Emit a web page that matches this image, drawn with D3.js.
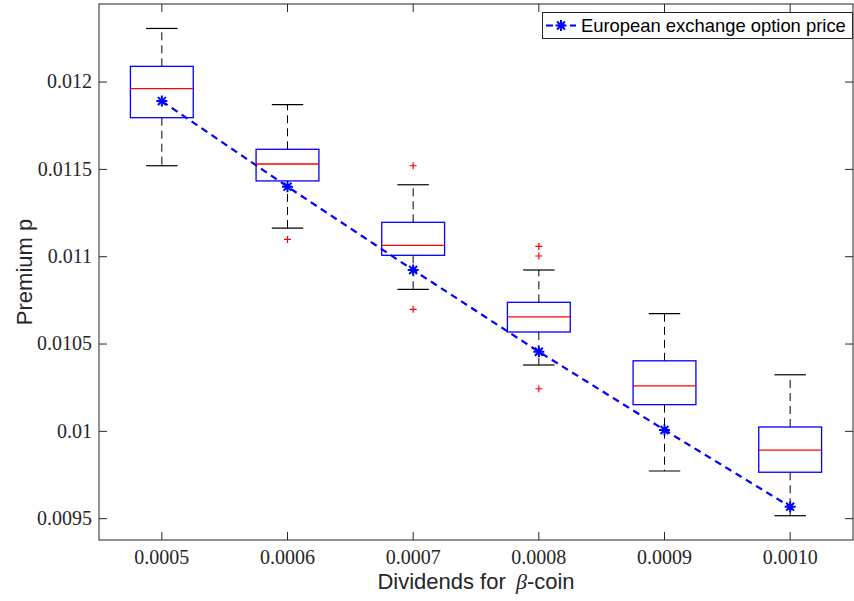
<!DOCTYPE html>
<html>
<head>
<meta charset="utf-8">
<script src="https://cdn.jsdelivr.net/npm/d3@7"></script>
<style>
  html, body { margin: 0; padding: 0; background: #fff; }
  svg { display: block; }
</style>
</head>
<body>
<svg id="chart" width="854" height="601"></svg>
<script>
// values
var categories = ['0.0005', '0.0006', '0.0007', '0.0008', '0.0009', '0.0010'];
var whiskerHigh = [0.012307, 0.011871, 0.011412, 0.010924, 0.010674, 0.010324];
var quartile3 = [0.012090, 0.011615, 0.011197, 0.010739, 0.010404, 0.010025];
var medians = [0.011962, 0.011531, 0.011065, 0.010655, 0.010261, 0.009893];
var quartile1 = [0.011796, 0.011434, 0.011008, 0.010569, 0.010153, 0.009766];
var whiskerLow = [0.011521, 0.011164, 0.010813, 0.010380, 0.009773, 0.009517];
var outliers = [[], [0.011099], [0.011521, 0.010699], [0.011059, 0.011004, 0.010244], [], []];
var optionPrice = [0.011891, 0.011401, 0.010924, 0.010456, 0.010008, 0.009569];

var yTicks = [0.0095, 0.01, 0.0105, 0.011, 0.0115, 0.012];
var yTickLabels = ['0.0095', '0.01', '0.0105', '0.011', '0.0115', '0.012'];
var yDomain = [0.009378, 0.012447];

var legendLabel = 'European exchange option price';

var svg = d3.select('#chart');
var margin = { top: 4, right: 1, bottom: 61, left: 99 };
var width = 854, height = 601;
var x0 = margin.left, x1 = width - margin.right;
var y0 = margin.top, y1 = height - margin.bottom;

var axisColor = '#262626';
var serif = '"Liberation Serif", "DejaVu Serif", serif';
var sans = '"Liberation Sans", Arial, sans-serif';

var x = d3.scalePoint().domain(categories).range([x0, x1]).padding(0.5);
var y = d3.scaleLinear().domain(yDomain).range([y1, y0]);
var step = x.step();
var boxW = step * 0.5;
var capW = step * 0.25;

var g = svg.append('g');

// whiskers
var whisk = g.append('g');
categories.forEach(function (c, i) {
  var cx = x(c);
  whisk.append('line')
    .attr('x1', cx).attr('x2', cx)
    .attr('y1', y(quartile3[i])).attr('y2', y(whiskerHigh[i]))
    .attr('stroke', '#000').attr('stroke-width', 1)
    .attr('stroke-dasharray', '8,5');
  whisk.append('line')
    .attr('x1', cx).attr('x2', cx)
    .attr('y1', y(quartile1[i])).attr('y2', y(whiskerLow[i]))
    .attr('stroke', '#000').attr('stroke-width', 1)
    .attr('stroke-dasharray', '8,5');
  [whiskerHigh[i], whiskerLow[i]].forEach(function (v) {
    whisk.append('line')
      .attr('x1', cx - capW / 2).attr('x2', cx + capW / 2)
      .attr('y1', y(v)).attr('y2', y(v))
      .attr('stroke', '#000').attr('stroke-width', 1.2);
  });
});

// boxes and medians
categories.forEach(function (c, i) {
  var cx = x(c);
  g.append('rect')
    .attr('x', cx - boxW / 2)
    .attr('y', y(quartile3[i]))
    .attr('width', boxW)
    .attr('height', y(quartile1[i]) - y(quartile3[i]))
    .attr('fill', 'none')
    .attr('stroke', '#0000ff')
    .attr('stroke-width', 1.3);
  g.append('line')
    .attr('x1', cx - boxW / 2).attr('x2', cx + boxW / 2)
    .attr('y1', y(medians[i])).attr('y2', y(medians[i]))
    .attr('stroke', '#ff0000').attr('stroke-width', 1.3);
});

// outliers
categories.forEach(function (c, i) {
  var cx = x(c);
  outliers[i].forEach(function (v) {
    var cy = y(v);
    g.append('path')
      .attr('d', 'M' + (cx - 3.5) + ',' + cy + 'H' + (cx + 3.5) +
        'M' + cx + ',' + (cy - 3.5) + 'V' + (cy + 3.5))
      .attr('stroke', '#ff0000').attr('stroke-width', 1.2)
      .attr('fill', 'none');
  });
});

function starPath(cx, cy, r) {
  var d = r * 0.72;
  return 'M' + (cx - r) + ',' + cy + 'H' + (cx + r) +
    'M' + cx + ',' + (cy - r) + 'V' + (cy + r) +
    'M' + (cx - d) + ',' + (cy - d) + 'L' + (cx + d) + ',' + (cy + d) +
    'M' + (cx - d) + ',' + (cy + d) + 'L' + (cx + d) + ',' + (cy - d);
}

// option price line
var line = d3.line()
  .x(function (d, i) { return x(categories[i]); })
  .y(function (d) { return y(d); });

g.append('path')
  .datum(optionPrice)
  .attr('d', line)
  .attr('fill', 'none')
  .attr('stroke', '#0000ff')
  .attr('stroke-width', 2.2)
  .attr('stroke-dasharray', '7,5');

optionPrice.forEach(function (v, i) {
  g.append('path')
    .attr('d', starPath(x(categories[i]), y(v), 5.5))
    .attr('stroke', '#0000ff').attr('stroke-width', 2)
    .attr('fill', 'none');
});

// axes frame with inward ticks on all sides
var axes = svg.append('g');
axes.append('rect')
  .attr('x', x0).attr('y', y0)
  .attr('width', x1 - x0).attr('height', y1 - y0)
  .attr('fill', 'none').attr('stroke', axisColor).attr('stroke-width', 1);

var tickLen = 8;
categories.forEach(function (c) {
  var cx = x(c);
  axes.append('line').attr('x1', cx).attr('x2', cx).attr('y1', y1).attr('y2', y1 - tickLen)
    .attr('stroke', axisColor);
  axes.append('line').attr('x1', cx).attr('x2', cx).attr('y1', y0).attr('y2', y0 + tickLen)
    .attr('stroke', axisColor);
  axes.append('text')
    .attr('x', cx).attr('y', y1 + 24)
    .attr('text-anchor', 'middle')
    .attr('font-family', serif).attr('font-size', '20px')
    .attr('fill', axisColor)
    .text(c);
});

yTicks.forEach(function (t, i) {
  var cy = y(t);
  axes.append('line').attr('x1', x0).attr('x2', x0 + tickLen).attr('y1', cy).attr('y2', cy)
    .attr('stroke', axisColor);
  axes.append('line').attr('x1', x1).attr('x2', x1 - tickLen).attr('y1', cy).attr('y2', cy)
    .attr('stroke', axisColor);
  axes.append('text')
    .attr('x', x0 - 7).attr('y', cy)
    .attr('dy', '0.32em')
    .attr('text-anchor', 'end')
    .attr('font-family', serif).attr('font-size', '20px')
    .attr('fill', axisColor)
    .text(yTickLabels[i]);
});

// axis labels
var xl = svg.append('text')
  .attr('x', (x0 + x1) / 2).attr('y', 589)
  .attr('text-anchor', 'middle')
  .attr('font-family', sans).attr('font-size', '22px')
  .attr('fill', axisColor);
xl.append('tspan').text('Dividends for ');
xl.append('tspan').attr('font-family', serif).attr('font-style', 'italic').attr('dx', 4).text('\u03B2');
xl.append('tspan').text('-coin');

svg.append('text')
  .attr('transform', 'translate(32,' + ((y0 + y1) / 2) + ') rotate(-90)')
  .attr('text-anchor', 'middle')
  .attr('font-family', sans).attr('font-size', '22px')
  .attr('fill', axisColor)
  .text('Premium p');

// legend
var lg = svg.append('g');
lg.append('rect')
  .attr('x', 542.5).attr('y', 12.5)
  .attr('width', 310).attr('height', 26)
  .attr('fill', '#fff').attr('stroke', axisColor).attr('stroke-width', 1);
lg.append('line')
  .attr('x1', 546).attr('x2', 576).attr('y1', 25.5).attr('y2', 25.5)
  .attr('stroke', '#0000ff').attr('stroke-width', 2.2)
  .attr('stroke-dasharray', '7,5');
lg.append('path')
  .attr('d', starPath(561, 25.5, 5.5))
  .attr('stroke', '#0000ff').attr('stroke-width', 2).attr('fill', 'none');
lg.append('text')
  .attr('x', 581).attr('y', 32)
  .attr('font-family', sans).attr('font-size', '18.4px')
  .attr('fill', '#000')
  .text(legendLabel);
</script>
</body>
</html>
